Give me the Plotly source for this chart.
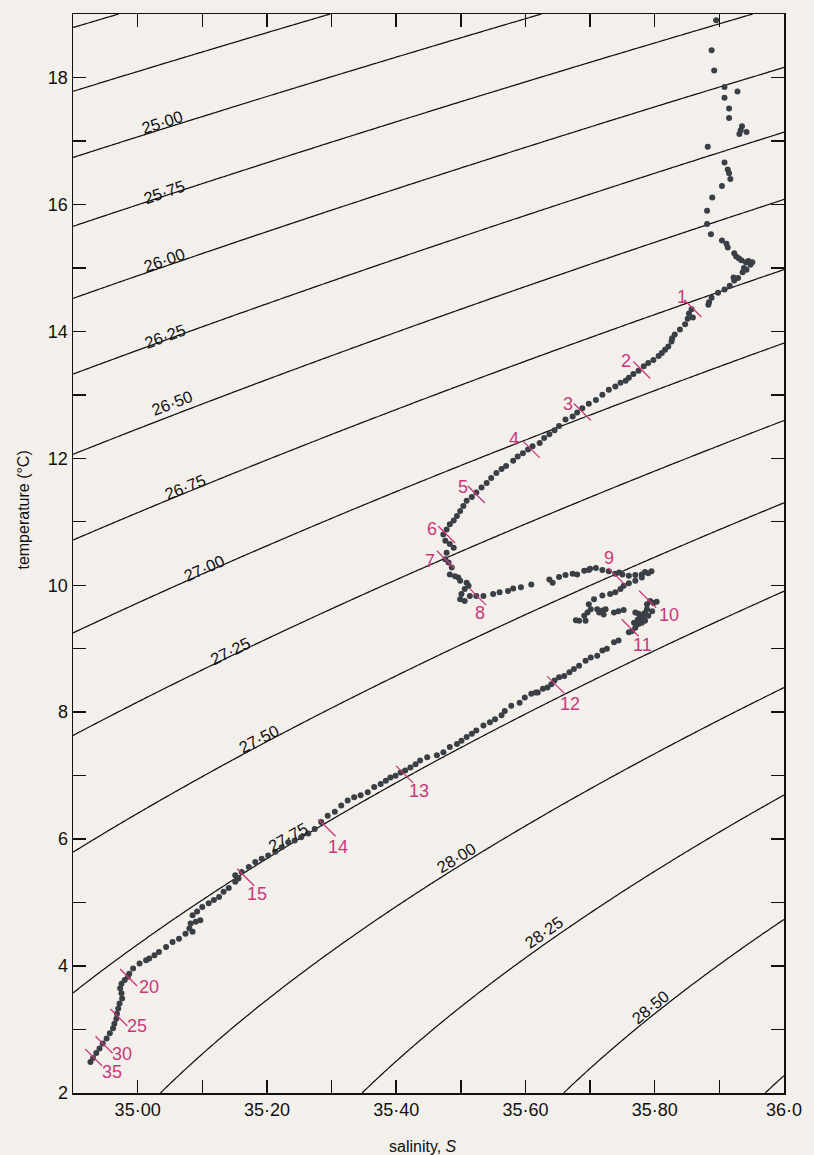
import numpy as np
import plotly.graph_objects as go

# ---------------- data ----------------
# CTD profile: salinity S and temperature T (deg C), surface -> bottom
profile_S = [
    35.895, 35.888, 35.892, 35.908, 35.928, 35.908, 35.915, 35.915, 35.935, 35.933,
    35.931, 35.942, 35.882, 35.908, 35.913, 35.915, 35.917, 35.904, 35.889, 35.881,
    35.881, 35.887, 35.904, 35.911, 35.913, 35.923, 35.926, 35.930, 35.934, 35.941,
    35.945, 35.951, 35.948, 35.938, 35.942, 35.936, 35.929, 35.923, 35.922, 35.916,
    35.908, 35.898, 35.888, 35.884, 35.883, 35.857, 35.853, 35.859, 35.851, 35.847,
    35.839, 35.831, 35.827,
    35.826, 35.821, 35.816, 35.811, 35.806, 35.798, 35.790, 35.783, 35.775, 35.767,
    35.760, 35.755, 35.747, 35.739, 35.729, 35.719, 35.709, 35.698, 35.688, 35.680,
    35.673, 35.662, 35.652, 35.645, 35.637, 35.629, 35.622, 35.611, 35.604, 35.596,
    35.588, 35.581, 35.570, 35.563, 35.555, 35.547, 35.540, 35.532, 35.524, 35.517,
    35.509, 35.504, 35.499, 35.494, 35.489, 35.483, 35.478, 35.473, 35.476, 35.483,
    35.489, 35.478, 35.476, 35.481, 35.486, 35.483, 35.491, 35.496, 35.499, 35.509,
    35.512, 35.506, 35.501, 35.499, 35.506, 35.514, 35.524, 35.535, 35.550, 35.560,
    35.573, 35.581, 35.593, 35.609, 35.637, 35.642, 35.652, 35.662, 35.673, 35.680,
    35.691, 35.698, 35.700, 35.709, 35.719, 35.729, 35.739, 35.745, 35.750, 35.760,
    35.770, 35.780, 35.785, 35.790, 35.795,
    35.780, 35.770, 35.760, 35.752, 35.747, 35.739, 35.731, 35.719,
    35.706, 35.698, 35.701, 35.696, 35.691, 35.693, 35.683, 35.678, 35.711, 35.719,
    35.724, 35.721, 35.714,
    35.737, 35.744, 35.752,
    35.788, 35.793, 35.798, 35.803, 35.796, 35.788, 35.784, 35.770, 35.775, 35.780,
    35.785, 35.790, 35.785, 35.783, 35.778, 35.774, 35.780, 35.768, 35.775, 35.770,
    35.765, 35.760,
    35.744, 35.737, 35.726, 35.719, 35.711, 35.701, 35.693, 35.683, 35.675, 35.668,
    35.660, 35.652, 35.645, 35.640, 35.634, 35.627, 35.619, 35.616, 35.609, 35.599,
    35.591, 35.578, 35.568, 35.563, 35.553, 35.545, 35.535, 35.524, 35.517, 35.509,
    35.501, 35.494, 35.483, 35.473, 35.463, 35.448, 35.437, 35.430, 35.422, 35.414,
    35.407, 35.399, 35.391, 35.384, 35.376, 35.366, 35.356, 35.345, 35.335, 35.325,
    35.315, 35.305, 35.294, 35.284, 35.274, 35.264, 35.253, 35.243, 35.233, 35.223,
    35.213, 35.202, 35.192, 35.182, 35.172, 35.161, 35.151, 35.156, 35.151, 35.141,
    35.133, 35.126, 35.118, 35.110, 35.100, 35.092, 35.085, 35.097, 35.090, 35.082,
    35.080, 35.085, 35.074, 35.064, 35.054, 35.044, 35.033, 35.026, 35.018, 35.013,
    35.003, 34.993, 34.987, 34.985, 34.980, 34.975, 34.973, 34.975, 34.976, 34.972,
    34.970, 34.968, 34.967, 34.964, 34.962, 34.957, 34.952, 34.946, 34.941, 34.936,
    34.931, 34.927,
]
profile_T = [
    18.90, 18.43, 18.11, 17.85, 17.78, 17.68, 17.51, 17.36, 17.23, 17.17,
    17.11, 17.14, 16.91, 16.66, 16.55, 16.49, 16.40, 16.29, 16.11, 15.90,
    15.69, 15.53, 15.43, 15.38, 15.32, 15.23, 15.18, 15.15, 15.12, 15.09,
    15.11, 15.09, 15.05, 15.00, 14.97, 14.93, 14.84, 14.80, 14.85, 14.72,
    14.66, 14.61, 14.53, 14.46, 14.42, 14.35, 14.28, 14.22, 14.20, 14.11,
    14.03, 13.95, 13.89,
    13.84, 13.76, 13.71, 13.66, 13.61, 13.55, 13.50, 13.45, 13.38, 13.33,
    13.27, 13.22, 13.19, 13.13, 13.08, 13.00, 12.92, 12.86, 12.79, 12.72,
    12.66, 12.61, 12.51, 12.44, 12.38, 12.32, 12.24, 12.19, 12.14, 12.08,
    12.03, 11.96, 11.88, 11.83, 11.77, 11.69, 11.61, 11.54, 11.46, 11.39,
    11.33, 11.25, 11.17, 11.09, 11.02, 10.96, 10.88, 10.80, 10.70, 10.65,
    10.59, 10.51, 10.41, 10.36, 10.28, 10.17, 10.14, 10.12, 10.07, 10.04,
    9.99, 9.94, 9.86, 9.78, 9.75, 9.83, 9.83, 9.83, 9.86, 9.89,
    9.91, 9.95, 9.97, 10.01, 10.09, 10.04, 10.13, 10.16, 10.18, 10.17,
    10.23, 10.24, 10.26, 10.27, 10.24, 10.22, 10.18, 10.20, 10.17, 10.15,
    10.16, 10.17, 10.21, 10.19, 10.22,
    10.12, 10.07, 10.03, 9.99, 9.94, 9.89, 9.86, 9.84,
    9.78, 9.70, 9.62, 9.57, 9.52, 9.44, 9.44, 9.45, 9.62, 9.60,
    9.62, 9.54, 9.57,
    9.57, 9.59, 9.61,
    9.70, 9.75, 9.72, 9.74, 9.59, 9.62, 9.56, 9.57, 9.55, 9.52,
    9.55, 9.52, 9.44, 9.46, 9.49, 9.46, 9.41, 9.41, 9.39, 9.33,
    9.28, 9.26,
    9.13, 9.10, 9.00, 8.97, 8.89, 8.86, 8.81, 8.73, 8.68, 8.63,
    8.57, 8.55, 8.50, 8.44, 8.39, 8.37, 8.31, 8.31, 8.29, 8.23,
    8.15, 8.10, 8.02, 7.95, 7.89, 7.84, 7.79, 7.71, 7.66, 7.61,
    7.55, 7.50, 7.45, 7.37, 7.32, 7.29, 7.24, 7.18, 7.13, 7.08,
    7.05, 7.00, 6.97, 6.92, 6.87, 6.82, 6.74, 6.69, 6.66, 6.61,
    6.53, 6.43, 6.37, 6.27, 6.16, 6.09, 6.03, 5.98, 5.95, 5.87,
    5.80, 5.74, 5.69, 5.64, 5.56, 5.48, 5.43, 5.38, 5.33, 5.23,
    5.17, 5.09, 5.04, 4.99, 4.93, 4.86, 4.80, 4.72, 4.70, 4.67,
    4.59, 4.54, 4.51, 4.43, 4.38, 4.30, 4.22, 4.17, 4.12, 4.09,
    4.04, 3.96, 3.88, 3.83, 3.78, 3.72, 3.65, 3.57, 3.49, 3.41,
    3.33, 3.25, 3.17, 3.09, 3.02, 2.94, 2.86, 2.78, 2.70, 2.63,
    2.55, 2.49,
]

# depth markers (labels as printed) and their positions on the profile
depth_labels = ["1", "2", "3", "4", "5", "6", "7", "8", "9", "10",
                "11", "12", "13", "14", "15", "20", "25", "30", "35"]
depth_S = [35.859, 35.780, 35.688, 35.609, 35.524, 35.478, 35.476, 35.526, 35.741, 35.789,
           35.762, 35.647, 35.413, 35.293, 35.167, 34.986, 34.971, 34.948, 34.932]
depth_T = [14.36, 13.39, 12.73, 12.14, 11.43, 10.80, 10.41, 9.82, 10.14, 9.78,
           9.33, 8.43, 7.02, 6.18, 5.40, 3.82, 3.19, 2.76, 2.56]

# sigma-t isopycnal levels drawn on the diagram
sigma_levels = [25.00, 25.25, 25.50, 25.75, 26.00, 26.25, 26.50, 26.75, 27.00,
                27.25, 27.50, 27.75, 28.00, 28.25, 28.50, 28.75]
# contour labels as printed in the figure
contour_label_text = ["25·00", "25·75", "26·00", "26·25", "26·50", "26·75", "27·00",
                      "27·25", "27·50", "27·75", "28·00", "28·25", "28·50"]

x_tickvals = [35.0, 35.1, 35.2, 35.3, 35.4, 35.5, 35.6, 35.7, 35.8, 35.9, 36.0]
x_ticktext = ["35·00", "", "35·20", "", "35·40", "", "35·60", "", "35·80", "", "36·0"]
y_tickvals = [2, 3, 4, 5, 6, 7, 8, 9, 10, 11, 12, 13, 14, 15, 16, 17, 18]
y_ticktext = ["2", "", "4", "", "6", "", "8", "", "10", "", "12", "", "14", "", "16", "", "18"]

# ---------------- styling / placement ----------------
BG = "#f3f0ec"
INK = "#111111"
DOT = "#3a3f45"
PINK = "#c8387a"
FONT = "Liberation Sans Narrow, Arial Narrow, Liberation Sans, Arial, sans-serif"

# label placement (data coords) and rotation for contour labels
contour_label_pos = [
    (35.038, 17.30, -18), (35.041, 16.20, -19), (35.041, 15.13, -19), (35.043, 13.92, -20),
    (35.053, 12.87, -21), (35.073, 11.55, -22), (35.103, 10.27, -24), (35.143, 8.97, -26),
    (35.187, 7.57, -27), (35.233, 6.03, -29), (35.492, 5.71, -31), (35.629, 4.53, -35),
    (35.793, 3.36, -39),
]
# pixel offsets of the depth numbers relative to their tick
depth_label_shift = [
    (-11, 12), (-16, 9), (-14, 8), (-17, 10), (-13, 7), (-15, 5), (-15, -2), (2, -16),
    (-8, 18), (21, -16), (12, -17), (14, -19), (14, -17), (11, -19), (11, -17),
    (20, -10), (18, -9), (18, -9), (18, -15),
]


def sigma_t(S, T):
    """UNESCO (1980) one-atmosphere density anomaly."""
    rho_w = (999.842594 + 6.793952e-2 * T - 9.095290e-3 * T**2 + 1.001685e-4 * T**3
             - 1.120083e-6 * T**4 + 6.536332e-9 * T**5)
    A = 8.24493e-1 - 4.0899e-3 * T + 7.6438e-5 * T**2 - 8.2467e-7 * T**3 + 5.3875e-9 * T**4
    B = -5.72466e-3 + 1.0227e-4 * T - 1.6546e-6 * T**2
    C = 4.8314e-4
    return rho_w + A * S + B * S**1.5 + C * S**2 - 1000.0


s_grid = np.linspace(34.9, 36.0, 221)
t_grid = np.linspace(2.0, 19.0, 341)
SS, TT = np.meshgrid(s_grid, t_grid)
ZZ = sigma_t(SS, TT)

fig = go.Figure()

step = sigma_levels[1] - sigma_levels[0]
fig.add_trace(go.Contour(
    x=s_grid, y=t_grid, z=ZZ,
    autocontour=False,
    contours=dict(start=sigma_levels[0], end=sigma_levels[-1], size=step,
                  coloring="none", showlabels=False),
    line=dict(color=INK, width=1.25, smoothing=1.0),
    showscale=False, hoverinfo="skip",
))

fig.add_trace(go.Scatter(
    x=profile_S, y=profile_T, mode="markers",
    marker=dict(color=DOT, size=6, line=dict(width=0)),
    hoverinfo="skip", showlegend=False,
))

fig.add_trace(go.Scatter(
    x=depth_S, y=depth_T, mode="markers",
    marker=dict(symbol="line-nw", size=17, color=PINK,
                line=dict(color=PINK, width=1.3)),
    hoverinfo="skip", showlegend=False,
))

annotations = []
for txt, (sx, ty, ang) in zip(contour_label_text, contour_label_pos):
    annotations.append(dict(
        x=sx, y=ty, xref="x", yref="y", text=txt, showarrow=False,
        textangle=ang, font=dict(family=FONT, size=16.5, color=INK),
        xanchor="center", yanchor="middle",
    ))
for lab, sx, ty, (dx, dy) in zip(depth_labels, depth_S, depth_T, depth_label_shift):
    annotations.append(dict(
        x=sx, y=ty, xref="x", yref="y", text=lab, showarrow=False,
        xshift=dx, yshift=dy, font=dict(family=FONT, size=18, color=PINK),
        xanchor="center", yanchor="middle",
    ))
annotations.append(dict(
    x=-0.07, y=0.54, xref="paper", yref="paper", text="temperature (°C)",
    showarrow=False, textangle=-90, font=dict(family=FONT, size=16, color=INK),
    xanchor="center", yanchor="middle",
))
annotations.append(dict(
    x=0.492, y=-0.05, xref="paper", yref="paper", text="salinity, <i>S</i>",
    showarrow=False, font=dict(family=FONT, size=16, color=INK),
    xanchor="center", yanchor="middle",
))

axis_common = dict(
    showgrid=False, zeroline=False, showline=True, linecolor=INK, linewidth=1.5,
    mirror="ticks", ticks="inside", ticklen=13, tickwidth=1.4, tickcolor=INK,
    tickfont=dict(family=FONT, size=18, color=INK),
)

fig.update_layout(
    width=814, height=1155,
    margin=dict(l=73, r=24, t=12, b=62),
    paper_bgcolor=BG, plot_bgcolor=BG,
    showlegend=False,
    xaxis=dict(range=[34.9, 36.0], tickmode="array", tickvals=x_tickvals,
               ticktext=x_ticktext, **axis_common),
    yaxis=dict(range=[2, 19], tickmode="array", tickvals=y_tickvals,
               ticktext=y_ticktext, **axis_common),
    annotations=annotations,
)

fig.write_html(
    "out.html",
    config={"displayModeBar": False, "staticPlot": True},
    post_script="document.body.style.margin='0';document.body.style.overflow='hidden';"
                "document.documentElement.style.overflow='hidden';"
                "document.body.style.background='" + BG + "';",
)
